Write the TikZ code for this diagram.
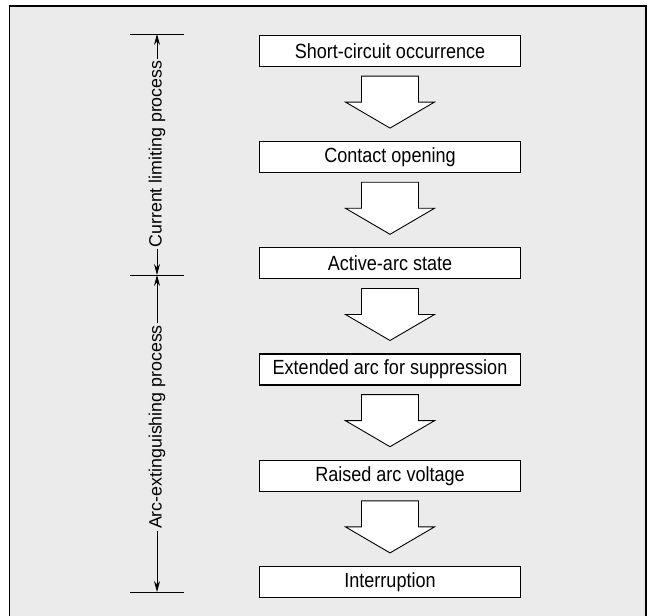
\documentclass[tikz,border=0pt]{standalone}
\usepackage{fontspec}
\setmainfont{Liberation Sans}
\newfontfamily\boxfont[FakeStretch=0.88]{Liberation Sans}
\usetikzlibrary{positioning,calc,arrows.meta}

\tikzset{
  stagebox/.style={draw, line width=1.2pt, fill=white, minimum width=261pt,
    minimum height=31pt, inner sep=0pt, font=\boxfont\fontsize{20.5}{24}\selectfont},
  blockarrow/.style={draw, line width=0.9pt, fill=white, line join=miter},
  phaselabel/.style={rotate=90, inner sep=1.5pt, font=\fontsize{17.8}{22}\selectfont},
  spanline/.style={line width=0.8pt, -{Stealth[length=11pt,width=6pt]}},
  tickline/.style={line width=0.9pt}
}

\newcommand{\blockarrow}[2]{%
  \draw[blockarrow] let \p1=(#1.south), \p2=(#2.north) in
    (\x1-28.5pt,\y1-9pt) -- (\x1+28.5pt,\y1-9pt) -- (\x1+28.5pt,\y1-35pt)
    -- (\x1+44.5pt,\y1-35pt) -- (\x2,\y2+13pt) -- (\x1-44.5pt,\y1-35pt)
    -- (\x1-28.5pt,\y1-35pt) -- cycle;}

\begin{document}
\begin{tikzpicture}[x=1pt, y=1pt]
\useasboundingbox (0,0) rectangle (657,616);
\fill[black!8] (9.5,0) rectangle (646,610);
\draw[line width=1.3pt] (9.5,-2) |- (646,610) -- (646,-2);

\node[stagebox](s1) at (390,565) {Short-circuit occurrence};
\node[stagebox, below=74pt of s1](s2) {Contact opening};
\node[stagebox, below=74pt of s2](s3) {Active-arc state};
\node[stagebox, below=74pt of s3](s4) {Extended arc for suppression};
\node[stagebox, below=74pt of s4](s5) {Raised arc voltage};
\node[stagebox, below=74pt of s5](s6) {Interruption};

\blockarrow{s1}{s2}
\blockarrow{s2}{s3}
\blockarrow{s3}{s4}
\blockarrow{s4}{s5}
\blockarrow{s5}{s6}

\coordinate (t1) at (157,582);
\coordinate (t2) at (157,341);
\coordinate (t3) at (157,24);
\foreach \t in {t1,t2,t3}
  \draw[tickline] ([xshift=-27pt]\t) -- ([xshift=27pt]\t);

\node[phaselabel](cl) at (157,462) {Current limiting process};
\node[phaselabel](ae) at (157,189) {Arc-extinguishing process};
\draw[spanline] (cl.east) -- (t1);
\draw[spanline] (cl.west) -- (t2);
\draw[spanline] (ae.east) -- (t2);
\draw[spanline] (ae.west) -- (t3);
\end{tikzpicture}
\end{document}
